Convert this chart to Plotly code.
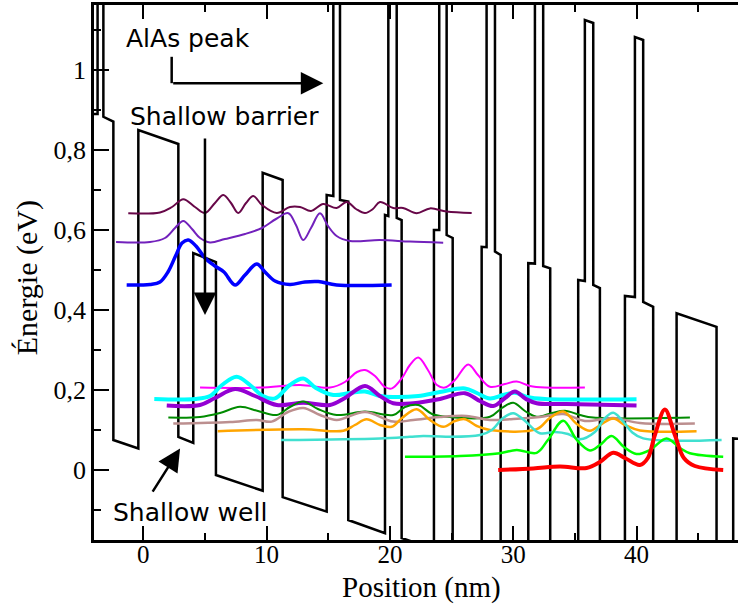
import plotly.graph_objects as go

# ---------------- data (nm, eV) ----------------
band_x = [-4.3, -3.71, -3.71, -3.24, -3.24, -2.43, -2.43, -0.405, -0.405, 2.84, 2.84, 4.05, 4.05, 5.89,
          5.89, 9.68, 9.68, 11.30, 11.30, 14.87, 14.87, 15.41, 15.41, 15.95, 15.95, 16.62, 16.62, 19.60,
          19.60, 19.87, 19.87, 20.55, 20.55, 20.95, 20.95, 23.57, 23.57, 24.0, 24.0, 24.6, 24.6, 25.09,
          25.09, 27.44, 27.44, 27.84, 27.84, 28.52, 28.52, 28.98, 28.98, 31.22, 31.22, 31.76, 31.76, 32.43,
          32.43, 33.0, 33.0, 35.27, 35.27, 35.81, 35.81, 36.49, 36.49, 37.03, 37.03, 39.06, 39.06, 39.87,
          39.87, 40.54, 40.54, 41.35, 41.35, 43.25, 43.25, 46.49, 46.49, 47.84, 47.84, 48.6]
band_e = [0.89, 0.89, 1.54, 1.54, 0.883, 0.871, 0.075, 0.054, 0.85, 0.815, 0.083, 0.068, 0.5425, 0.52,
          -0.0125, -0.052, 0.743, 0.725, -0.068, -0.104, 0.6875, 0.685, 1.335, 1.33, 0.675, 0.671, -0.125, -0.158,
          0.6375, 0.635, 1.285, 1.28, 0.63, 0.625, -0.17, -0.198, 0.60, 0.60, 1.25, 1.245, 0.5875, 0.58,
          -0.214, -0.239, 0.558, 0.557, 1.21, 1.20, 0.546, 0.5375, -0.254, -0.278, 0.517, 0.516, 1.18, 1.175,
          0.51, 0.504, -0.294, -0.318, 0.475, 0.4725, 1.125, 1.1175, 0.4625, 0.455, -0.337, -0.358, 0.435, 0.4325,
          1.0825, 1.075, 0.42, 0.408, -0.382, -0.401, 0.392, 0.358, -0.435, -0.446, 0.079, 0.0775]

maroon_x = [-1.22, 1.35, 2.33, 3.24, 4.19, 5.0, 5.81, 6.49, 7.11, 7.70, 8.33, 8.92, 9.62, 10.82, 11.89,
            12.71, 13.60, 14.59, 15.68, 16.49, 17.25, 17.98, 18.62, 19.19, 20.27, 21.06, 22.17, 23.25, 24.60, 26.63]
maroon_e = [0.642, 0.644, 0.6575, 0.677, 0.6575, 0.6425, 0.6675, 0.6875, 0.6675, 0.6425, 0.6675, 0.685, 0.6625,
            0.6425, 0.6575, 0.6575, 0.6475, 0.665, 0.655, 0.67, 0.6525, 0.6425, 0.6525, 0.67, 0.655, 0.655,
            0.642, 0.654, 0.646, 0.6425]

indigo_x = [-2.21, 0.54, 1.76, 2.57, 3.24, 3.95, 4.60, 5.41, 6.62, 8.25, 9.62, 10.76, 11.76, 12.38, 12.97,
            13.60, 14.33, 14.98, 15.68, 16.76, 19.19, 21.62, 24.32]
indigo_e = [0.57, 0.57, 0.58, 0.605, 0.6225, 0.6025, 0.58, 0.569, 0.5775, 0.59, 0.605, 0.6275, 0.642, 0.6125,
            0.575, 0.605, 0.642, 0.61, 0.585, 0.5725, 0.575, 0.571, 0.568]

blue_x = [-1.35, 0.54, 1.35, 2.0, 2.65, 3.14, 3.65, 4.27, 5.0, 5.81, 6.54, 7.44, 8.25, 9.20, 9.87, 10.68,
          11.89, 13.11, 14.19, 15.68, 20.14]
blue_e = [0.4625, 0.464, 0.47, 0.495, 0.5375, 0.5675, 0.575, 0.56, 0.53, 0.51, 0.495, 0.4625, 0.4875, 0.515,
          0.495, 0.4725, 0.464, 0.47, 0.471, 0.4625, 0.4625]

magenta_x = [4.60, 9.46, 12.71, 15.14, 16.35, 17.33, 17.98, 18.79, 19.60, 20.17, 20.98, 21.62, 22.30, 23.08,
             23.81, 24.46, 25.27, 26.35, 27.14, 28.11, 29.33, 30.28, 31.36, 32.57, 35.81]
magenta_e = [0.206, 0.206, 0.2125, 0.206, 0.22, 0.245, 0.25, 0.235, 0.2075, 0.204, 0.23, 0.2625, 0.281, 0.25,
             0.2125, 0.206, 0.225, 0.264, 0.2375, 0.208, 0.215, 0.221, 0.21, 0.206, 0.206]

cyan_x = [0.89, 4.19, 5.41, 6.38, 7.57, 8.65, 9.71, 10.68, 11.89, 12.97, 14.0, 15.41, 16.76, 17.98, 19.19,
          20.25, 22.30, 24.06, 26.08, 27.05, 28.11, 29.17, 30.14, 31.11, 32.57, 40.0]
cyan_e = [0.1775, 0.1775, 0.185, 0.2125, 0.233, 0.2125, 0.185, 0.179, 0.2125, 0.229, 0.205, 0.1875, 0.1925,
          0.196, 0.185, 0.1825, 0.185, 0.195, 0.204, 0.1925, 0.179, 0.1875, 0.193, 0.1825, 0.1775, 0.177]

violet_x = [1.90, 4.60, 5.81, 7.44, 9.06, 10.82, 12.97, 15.14, 16.35, 17.98, 19.19, 20.27, 21.89, 24.06,
            26.08, 27.30, 28.38, 29.33, 30.14, 31.03, 31.90, 34.33, 40.0]
violet_e = [0.161, 0.1625, 0.18, 0.2025, 0.185, 0.1625, 0.168, 0.1625, 0.18, 0.21, 0.185, 0.167, 0.167, 0.1775,
            0.192, 0.1725, 0.16, 0.18, 0.196, 0.1775, 0.167, 0.165, 0.161]

green_x = [2.03, 4.60, 6.22, 7.84, 9.30, 10.82, 11.89, 12.97, 14.16, 15.68, 17.98, 20.27, 21.22, 22.30, 23.41,
           24.60, 28.11, 29.08, 30.0, 30.95, 31.90, 33.14, 34.19, 35.41, 36.49, 44.33]
green_e = [0.131, 0.1325, 0.1425, 0.158, 0.1475, 0.1375, 0.1575, 0.171, 0.1525, 0.1375, 0.146, 0.1375, 0.1575,
           0.1625, 0.14, 0.133, 0.133, 0.155, 0.168, 0.1475, 0.133, 0.1425, 0.148, 0.1375, 0.131, 0.131]

brown_x = [2.43, 7.03, 9.20, 10.41, 11.73, 12.97, 14.33, 15.68, 17.98, 20.27, 21.89, 24.06, 26.22, 28.11,
           30.0, 32.16, 34.06, 35.81, 38.11, 40.27, 44.73]
brown_e = [0.116, 0.12, 0.125, 0.121, 0.145, 0.155, 0.1375, 0.125, 0.145, 0.121, 0.125, 0.1325, 0.135, 0.125,
           0.1275, 0.1325, 0.14, 0.1225, 0.13, 0.1175, 0.116]

orange_x = [6.03, 12.97, 16.22, 17.16, 18.11, 19.19, 20.14, 20.98, 22.17, 23.25, 24.33, 25.27, 26.08, 27.05,
            28.11, 31.90, 32.97, 34.06, 35.16, 36.22, 37.19, 38.11, 39.06, 40.27, 44.87]
orange_e = [0.097, 0.102, 0.098, 0.1125, 0.127, 0.1125, 0.108, 0.13, 0.152, 0.125, 0.108, 0.1225, 0.127, 0.11,
            0.1, 0.102, 0.13, 0.146, 0.115, 0.098, 0.115, 0.129, 0.1125, 0.099, 0.097]

turq_x = [11.17, 19.19, 21.62, 22.70, 24.60, 27.30, 28.27, 29.17, 30.0, 30.87, 32.16, 33.38, 34.44, 35.41,
          36.62, 37.44, 38.11, 38.81, 39.62, 40.54, 46.90]
turq_e = [0.075, 0.079, 0.083, 0.085, 0.083, 0.0875, 0.1, 0.13, 0.142, 0.125, 0.092, 0.095, 0.09, 0.077, 0.095,
          0.13, 0.143, 0.125, 0.095, 0.079, 0.075]

lime_x = [21.22, 25.68, 28.92, 30.28, 31.90, 32.81, 34.06, 35.16, 36.22, 37.03, 37.98, 38.98, 40.0, 41.08,
          42.44, 43.52, 44.33, 47.03]
lime_e = [0.033, 0.035, 0.042, 0.05, 0.043, 0.075, 0.123, 0.075, 0.049, 0.0625, 0.085, 0.0575, 0.04, 0.05,
          0.079, 0.055, 0.042, 0.033]

red_x = [28.78, 31.62, 33.78, 35.95, 37.03, 38.11, 39.06, 40.27, 40.92, 41.49, 42.30, 43.11, 43.84, 44.73, 47.03]
red_e = [0.0, 0.004, 0.009, 0.005, 0.02, 0.043, 0.03, 0.0125, 0.03, 0.0875, 0.151, 0.0875, 0.03, 0.01, 0.0]

wave_series = [
    (maroon_x, maroon_e, "#670748", 2),
    (indigo_x, indigo_e, "#7221BC", 2),
    (blue_x, blue_e, "#0000FF", 3.5),
    (magenta_x, magenta_e, "#FF00FF", 2),
    (cyan_x, cyan_e, "#00FFFF", 4),
    (violet_x, violet_e, "#9400D3", 4),
    (green_x, green_e, "#008B00", 2),
    (brown_x, brown_e, "#BC8F8F", 2.5),
    (orange_x, orange_e, "#FFA500", 2.5),
    (turq_x, turq_e, "#40E0D0", 2.5),
    (lime_x, lime_e, "#00FF00", 2.5),
    (red_x, red_e, "#FF0000", 4),
]

x_ticks = [0, 10, 20, 30, 40]
y_ticks = [0, 0.2, 0.4, 0.6, 0.8, 1.0]
y_tick_labels = ["0", "0,2", "0,4", "0,6", "0,8", "1"]

# ---------------- figure ----------------
fig = go.Figure()
fig.add_trace(go.Scatter(x=band_x, y=band_e, mode="lines",
                         line=dict(color="black", width=2.5), hoverinfo="skip"))
for xs, es, col, w in wave_series:
    fig.add_trace(go.Scatter(x=xs, y=es, mode="lines",
                             line=dict(color=col, width=w, shape="spline", smoothing=1.0),
                             hoverinfo="skip"))

serif = "Liberation Serif"
sans = "DejaVu Sans"

fig.update_layout(
    width=738, height=607,
    margin=dict(l=94, r=0, t=5, b=67),
    paper_bgcolor="white", plot_bgcolor="white",
    showlegend=False,
    separators=", ",
    xaxis=dict(range=[-4.0, 48.23], showgrid=False, zeroline=False,
               showline=True, linecolor="black", linewidth=2.5, mirror="ticks",
               ticks="inside", ticklen=14, tickwidth=2, tickcolor="black",
               tickvals=x_ticks, ticktext=[str(v) for v in x_ticks],
               ticklabelstandoff=-10,
               tickfont=dict(family=serif, size=25, color="black"),
               minor=dict(dtick=5, tick0=0, ticks="inside", ticklen=7, tickwidth=2, tickcolor="black")),
    yaxis=dict(range=[-0.175, 1.1625], showgrid=False, zeroline=False,
               showline=True, linecolor="black", linewidth=2.5, mirror=False,
               ticks="inside", ticklen=15, tickwidth=2, tickcolor="black",
               tickvals=y_ticks, ticktext=y_tick_labels,
               tickfont=dict(family=serif, size=26, color="black"),
               minor=dict(dtick=0.1, tick0=0, ticks="inside", ticklen=7, tickwidth=2, tickcolor="black")),
)

annotations = [
    dict(text="Position (nm)", xref="paper", yref="paper", x=0.5085, y=-0.0897,
         xanchor="center", yanchor="middle", showarrow=False,
         font=dict(family=serif, size=29, color="black")),
    dict(text="Énergie (eV)", xref="paper", yref="paper", x=-0.105, y=0.49,
         xanchor="center", yanchor="middle", showarrow=False, textangle=-90,
         font=dict(family=serif, size=30, color="black")),
    dict(text="AlAs peak", xref="x", yref="y", x=3.59, y=1.08, xanchor="center", yanchor="middle",
         showarrow=False, font=dict(family=sans, size=25, color="black")),
    dict(text="Shallow barrier", xref="x", yref="y", x=6.62, y=0.885, xanchor="center", yanchor="middle",
         showarrow=False, font=dict(family=sans, size=25, color="black")),
    dict(text="Shallow well", xref="x", yref="y", x=3.79, y=-0.105, xanchor="center", yanchor="middle",
         showarrow=False, font=dict(family=sans, size=25, color="black")),
    # arrows
    dict(text="", xref="x", yref="y", axref="x", ayref="y", x=14.6, y=0.967, ax=2.30, ay=0.967,
         showarrow=True, arrowhead=2, arrowsize=1.8, arrowwidth=2.5, arrowcolor="black", standoff=0),
    dict(text="", xref="x", yref="y", axref="x", ayref="y", x=5.0, y=0.3875, ax=5.0, ay=0.8325,
         showarrow=True, arrowhead=2, arrowsize=1.8, arrowwidth=2.5, arrowcolor="black", standoff=0),
    dict(text="", xref="x", yref="y", axref="x", ayref="y", x=2.98, y=0.054, ax=0.68, ay=-0.058,
         showarrow=True, arrowhead=2, arrowsize=1.8, arrowwidth=2.5, arrowcolor="black", standoff=0),
]
fig.update_layout(annotations=annotations)
fig.add_shape(type="line", xref="x", yref="y", x0=2.30, y0=1.033, x1=2.30, y1=0.967,
              line=dict(color="black", width=2.5))

fig.write_html("out.html", config={"displayModeBar": False},
               post_script="document.body.style.margin='0';document.body.style.overflow='hidden';")
